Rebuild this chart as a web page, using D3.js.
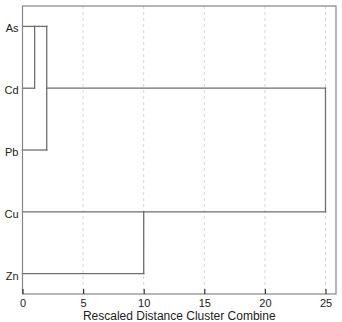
<!DOCTYPE html>
<html>
<head>
<meta charset="utf-8">
<script src="https://cdn.jsdelivr.net/npm/d3@7"></script>
<style>
  body { margin: 0; background: #fff; }
  text { font-family: "Liberation Sans", Arial, sans-serif; fill: #222; }
</style>
</head>
<body>
<div id="chart"></div>
<script>
// leaves, top to bottom
const leaves = ["As", "Cd", "Pb", "Cu", "Zn"];
// merges: ids, rescaled distance, the two children, row the cluster leaves from
const mergeIds = ["m1", "m2", "m3", "m4"];
const mergeDist = [1, 2, 10, 25];
const mergeChildren = [["As", "Cd"], ["m1", "Pb"], ["Cu", "Zn"], ["m2", "m3"]];
const mergeRow = ["As", "Cd", "Cu", "Cd"];
const xTicks = [0, 5, 10, 15, 20, 25];
const xTitle = "Rescaled Distance Cluster Combine";

const width = 342, height = 322;
const box = {left: 22.5, top: 6, right: 336, bottom: 294};

const svg = d3.select("#chart").append("svg")
    .attr("width", width)
    .attr("height", height);

const x = d3.scaleLinear().domain([0, 25]).range([box.left, 325.5]);
const y = d3.scalePoint().domain(leaves).range([box.top, box.bottom]).padding(0.33);

// grid
svg.append("g").attr("class", "grid")
    .selectAll("line")
    .data(xTicks.filter(d => d > 0))
    .join("line")
    .attr("x1", d => x(d)).attr("x2", d => x(d))
    .attr("y1", box.top).attr("y2", box.bottom)
    .attr("stroke", "#d4d4d4")
    .attr("stroke-width", 1)
    .attr("stroke-dasharray", "3,3");

// node lookup: start distance and output row
let nodes = {};
leaves.forEach(l => nodes[l] = {dist: 0, row: l});
mergeIds.forEach((id, i) => nodes[id] = {dist: mergeDist[i], row: mergeRow[i]});

let segs = [];
mergeIds.forEach((id, i) => {
    let d = mergeDist[i];
    let rows = mergeChildren[i].map(c => nodes[c].row);
    // vertical joining the two children
    segs.push({x1: d, x2: d, r1: rows[0], r2: rows[1]});
    // horizontals from each child up to this merge
    mergeChildren[i].forEach(c => {
        segs.push({x1: nodes[c].dist, x2: d, r1: nodes[c].row, r2: nodes[c].row});
    });
});

svg.append("g").attr("class", "dendro")
    .selectAll("line")
    .data(segs)
    .join("line")
    .attr("x1", d => x(d.x1)).attr("x2", d => x(d.x2))
    .attr("y1", d => y(d.r1)).attr("y2", d => y(d.r2))
    .attr("stroke", "#6e6e6e")
    .attr("stroke-width", 1.3)
    .attr("stroke-linecap", "square");

// frame
svg.append("rect")
    .attr("x", box.left).attr("y", box.top)
    .attr("width", box.right - box.left)
    .attr("height", box.bottom - box.top)
    .attr("fill", "none")
    .attr("stroke", "#858585")
    .attr("stroke-width", 1.2);

// bottom axis
const xAxis = d3.axisBottom(x).tickValues(xTicks).tickSize(-5).tickPadding(5);
const ax = svg.append("g")
    .attr("transform", `translate(0,${box.bottom})`)
    .call(xAxis);
ax.select(".domain").remove();
ax.selectAll(".tick line").attr("stroke", "#333").attr("stroke-width", 1.2);
ax.selectAll(".tick text")
    .style("font-family", "Liberation Sans, Arial, sans-serif")
    .style("font-size", "11px")
    .attr("fill", "#222");

// leaf labels
svg.append("g").attr("class", "labels")
    .selectAll("text")
    .data(leaves)
    .join("text")
    .attr("x", box.left - 4)
    .attr("y", d => y(d) + 2)
    .attr("text-anchor", "end")
    .attr("dominant-baseline", "central")
    .style("font-size", "11px")
    .text(d => d);

svg.append("text")
    .attr("x", (box.left + box.right) / 2)
    .attr("y", 320)
    .attr("text-anchor", "middle")
    .style("font-size", "12px")
    .text(xTitle);
</script>
</body>
</html>
